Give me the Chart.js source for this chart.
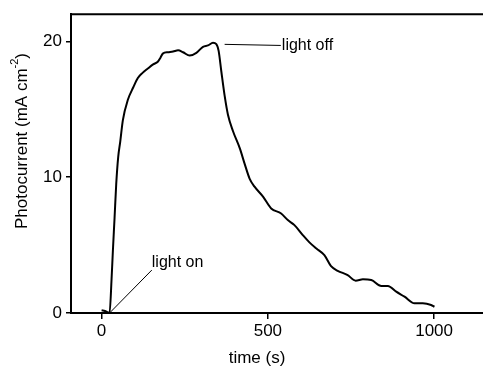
<!DOCTYPE html>
<html><head><meta charset="utf-8">
<script src="https://cdn.jsdelivr.net/npm/chart.js@4.4.1/dist/chart.umd.min.js"></script>
<style>html,body{margin:0;padding:0;background:#fff}#wrap{width:483px;height:366px}</style>
</head><body><div id="wrap"><canvas id="c" width="483" height="366"></canvas></div>
<script>
const timeS = [0, 10, 18, 24, 30, 34, 39, 44, 50, 56, 64, 79, 95, 109, 124, 139, 155, 169, 177, 184, 200, 215, 230, 245, 265, 285, 305, 320, 335, 345, 352, 360, 370, 380, 395, 416, 430, 445, 460, 486, 510, 540, 560, 580, 605, 625, 646, 670, 690, 710, 740, 764, 786, 811, 841, 861, 886, 911, 941, 966, 991, 1001];
const photocurrent = [0.2, 0.15, 0.05, 0, 2.5, 4.6, 7.0, 9.5, 11.5, 12.6, 14.2, 15.7, 16.6, 17.3, 17.7, 18.0, 18.3, 18.5, 18.8, 19.1, 19.2, 19.25, 19.34, 19.2, 18.95, 19.15, 19.6, 19.7, 19.9, 19.8, 19.3, 17.8, 16.0, 14.6, 13.4, 12.1, 11.0, 9.9, 9.3, 8.55, 7.7, 7.33, 6.84, 6.47, 5.74, 5.2, 4.75, 4.26, 3.45, 3.11, 2.79, 2.38, 2.48, 2.43, 1.99, 1.99, 1.57, 1.2, 0.71, 0.71, 0.59, 0.46];
const xTicks = [0, 500, 1000];
const yTicks = [0, 10, 20];
const xLabel = "time (s)";
const yLabel = "Photocurrent (mA cm";
const ySup = "-2";
// annotations: [text, textX, textY, lineFromX, lineFromY, lineToX, lineToY] in data units
const annOff = ["light off", 542, 19.7, 539, 19.7, 370, 19.78];
const annOn = ["light on", 151, 3.68, 151, 3.16, 24, 0];

const FONT = '"Liberation Sans", Arial, sans-serif';

const deco = {
  id: 'deco',
  afterDraw(chart) {
    const ctx = chart.ctx, a = chart.chartArea;
    const xs = chart.scales.x, ys = chart.scales.y;
    ctx.save();
    ctx.strokeStyle = '#000'; ctx.lineWidth = 2;
    ctx.beginPath(); ctx.moveTo(a.left - 1, a.top); ctx.lineTo(a.right, a.top); ctx.stroke();
    ctx.lineWidth = 1;
    ctx.font = '16px ' + FONT; ctx.fillStyle = '#000';
    ctx.textBaseline = 'middle'; ctx.textAlign = 'left';
    for (const an of [annOff, annOn]) {
      ctx.beginPath();
      ctx.moveTo(xs.getPixelForValue(an[3]), ys.getPixelForValue(an[4]));
      ctx.lineTo(xs.getPixelForValue(an[5]), ys.getPixelForValue(an[6]));
      ctx.stroke();
      ctx.fillText(an[0], xs.getPixelForValue(an[1]), ys.getPixelForValue(an[2]));
    }
    ctx.font = '17px ' + FONT; ctx.textAlign = 'center';
    ctx.fillText(xLabel, 257, 358);
    ctx.translate(22, 141);
    ctx.rotate(-Math.PI / 2);
    ctx.font = '17px ' + FONT;
    const w1 = ctx.measureText(yLabel).width;
    ctx.font = '11px ' + FONT;
    const w2 = ctx.measureText(ySup).width;
    ctx.font = '17px ' + FONT;
    const w3 = ctx.measureText(')').width;
    const tot = w1 + w2 + w3;
    let x0 = -tot / 2;
    ctx.textAlign = 'left';
    ctx.fillText(yLabel, x0, 0);
    ctx.font = '11px ' + FONT;
    ctx.fillText(ySup, x0 + w1, -7);
    ctx.font = '17px ' + FONT;
    ctx.fillText(')', x0 + w1 + w2, 0);
    ctx.restore();
  }
};

new Chart(document.getElementById('c'), {
  type: 'line',
  data: { datasets: [{
    data: timeS.map((t, i) => ({x: t, y: photocurrent[i]})),
    borderColor: '#000', borderWidth: 2, pointRadius: 0, fill: false,
    cubicInterpolationMode: 'monotone', clip: false
  }]},
  options: {
    responsive: false, animation: false, devicePixelRatio: 1,
    layout: { padding: { top: 14, right: 0, left: 0, bottom: 0 } },
    plugins: { legend: { display: false }, tooltip: { enabled: false } },
    scales: {
      x: {
        type: 'linear', min: -92, max: 1147,
        afterFit(s) { s.height = 53; },
        afterBuildTicks(s) { s.ticks = xTicks.map(v => ({value: v})); },
        grid: { display: true, drawOnChartArea: false, drawTicks: true, tickLength: 6, color: '#000', lineWidth: 1.5 },
        border: { display: true, color: '#000', width: 2 },
        ticks: { color: '#000', font: { family: FONT, size: 17 }, padding: 2, maxRotation: 0, callback: v => String(v) }
      },
      y: {
        type: 'linear', min: 0, max: 22,
        afterFit(s) { s.width = 71; },
        afterBuildTicks(s) { s.ticks = yTicks.map(v => ({value: v})); },
        grid: { display: true, drawOnChartArea: false, drawTicks: true, tickLength: 5, color: '#000', lineWidth: 1.5 },
        border: { display: true, color: '#000', width: 2 },
        ticks: { color: '#000', font: { family: FONT, size: 17 }, padding: 4, callback: v => String(v) }
      }
    }
  },
  plugins: [deco]
});
</script></body></html>
